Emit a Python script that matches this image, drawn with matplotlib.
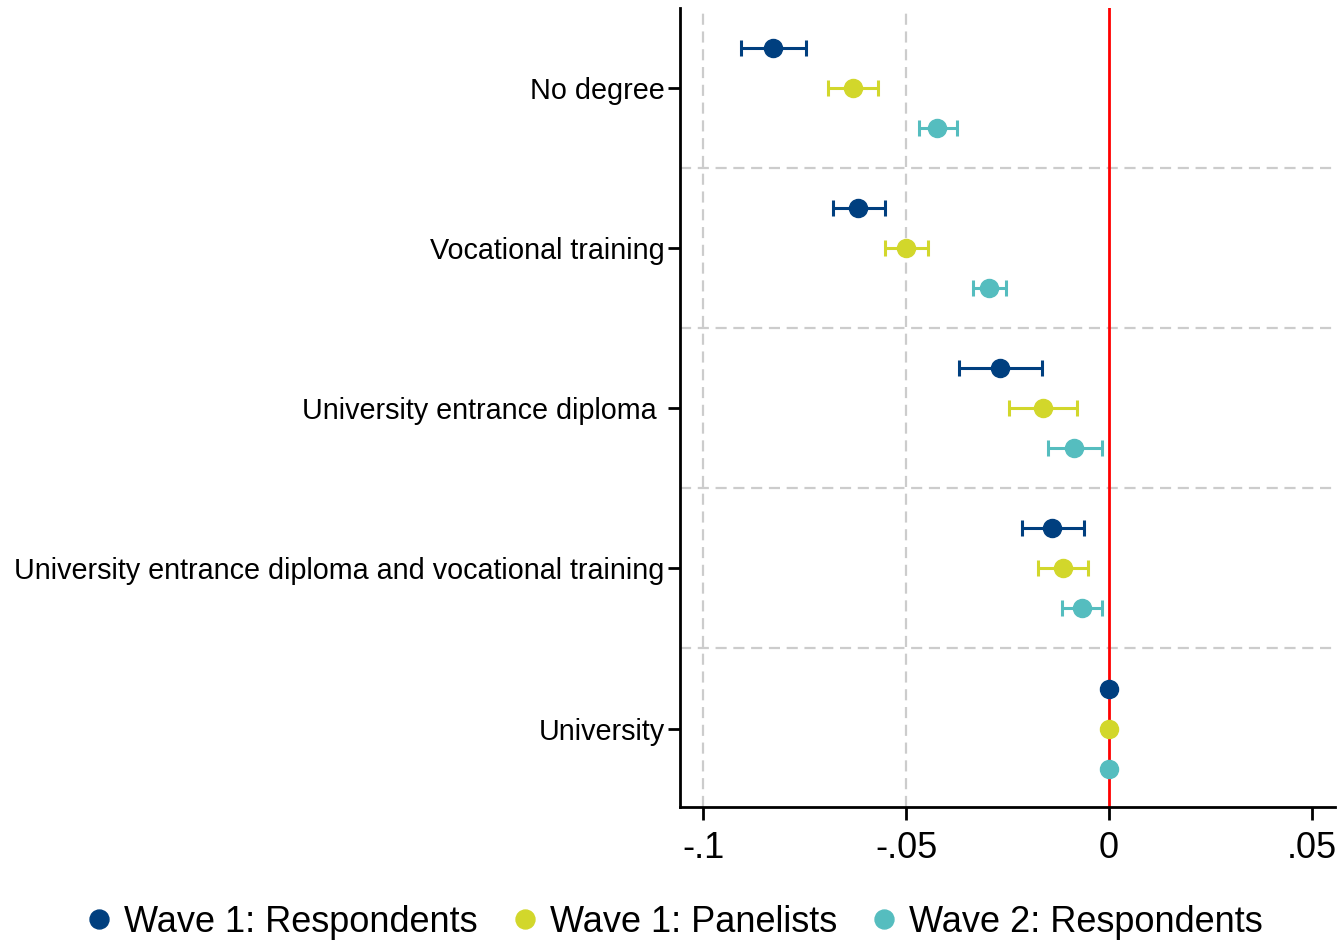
import matplotlib
matplotlib.use("Agg")
import matplotlib.pyplot as plt
import numpy as np

plt.rcParams['font.family'] = ['Liberation Sans', 'DejaVu Sans']

categories = ["No degree", "Vocational training", "University entrance diploma ",
              "University entrance diploma and vocational training", "University"]
series = ["Wave 1: Respondents", "Wave 1: Panelists", "Wave 2: Respondents"]
colors = ["#003f7f", "#d2d72b", "#55bdbf"]

# point estimates per series (rows) and category (columns)
est = [
    [-0.0828, -0.0618, -0.0268, -0.0140, 0.0],
    [-0.0631, -0.0500, -0.0163, -0.0113, 0.0],
    [-0.0424, -0.0296, -0.0086, -0.0067, 0.0],
]
lo = [
    [-0.0906, -0.0680, -0.0369, -0.0214, 0.0],
    [-0.0692, -0.0552, -0.0246, -0.0175, 0.0],
    [-0.0468, -0.0335, -0.0150, -0.0116, 0.0],
]
hi = [
    [-0.0746, -0.0552, -0.0165, -0.0062, 0.0],
    [-0.0569, -0.0446, -0.0079, -0.0052, 0.0],
    [-0.0374, -0.0254, -0.0017, -0.0017, 0.0],
]
offsets = [-0.25, 0.0, 0.25]

fig = plt.figure(figsize=(13.43, 9.41), dpi=100)
ax = fig.add_axes([680/1343, 1 - 807/941, 655/1343, 799/941])

pos = np.arange(len(categories))
for i in range(3):
    e = np.array(est[i]); l = np.array(lo[i]); h = np.array(hi[i])
    ci = ~np.isclose(l, h)
    ax.errorbar(e[ci], pos[ci] + offsets[i], xerr=[e[ci] - l[ci], h[ci] - e[ci]],
                fmt="none", ecolor=colors[i], elinewidth=2.2, capsize=5.5,
                capthick=2.2, zorder=3)
    ax.plot(e, pos + offsets[i], "o", color=colors[i], markersize=13,
            linestyle="none", label=series[i], zorder=4)

ax.axvline(0, color="red", lw=2, zorder=2)
for x in [-0.1, -0.05]:
    ax.axvline(x, color="#cccccc", lw=1.6, ls=(0, (5, 3)), zorder=1)
for y in [0.5, 1.5, 2.5, 3.5]:
    ax.axhline(y, color="#cccccc", lw=1.6, ls=(0, (5, 3)), zorder=1)

ax.set_xlim(-0.1057, 0.0557)
ax.set_ylim(4.49, -0.5)
ax.set_xticks([-0.1, -0.05, 0, 0.05])
ax.set_xticklabels(["-.1", "-.05", "0", ".05"], fontsize=26)
ax.set_yticks(pos)
ax.set_yticklabels(categories, fontsize=20.7)
ax.tick_params(axis="both", width=2, length=9, color="black")
ax.tick_params(axis="y", pad=2)
ax.tick_params(axis="x", pad=8)
for s in ["top", "right"]:
    ax.spines[s].set_visible(False)
for s in ["left", "bottom"]:
    ax.spines[s].set_linewidth(2)

fig.legend(loc="center", bbox_to_anchor=(672/1343, 1 - 922/941), ncol=3,
           frameon=False, fontsize=26, handletextpad=0.2, columnspacing=0.8,
           markerscale=1.05, handlelength=1.0)

fig.savefig("out.png", dpi=100)
